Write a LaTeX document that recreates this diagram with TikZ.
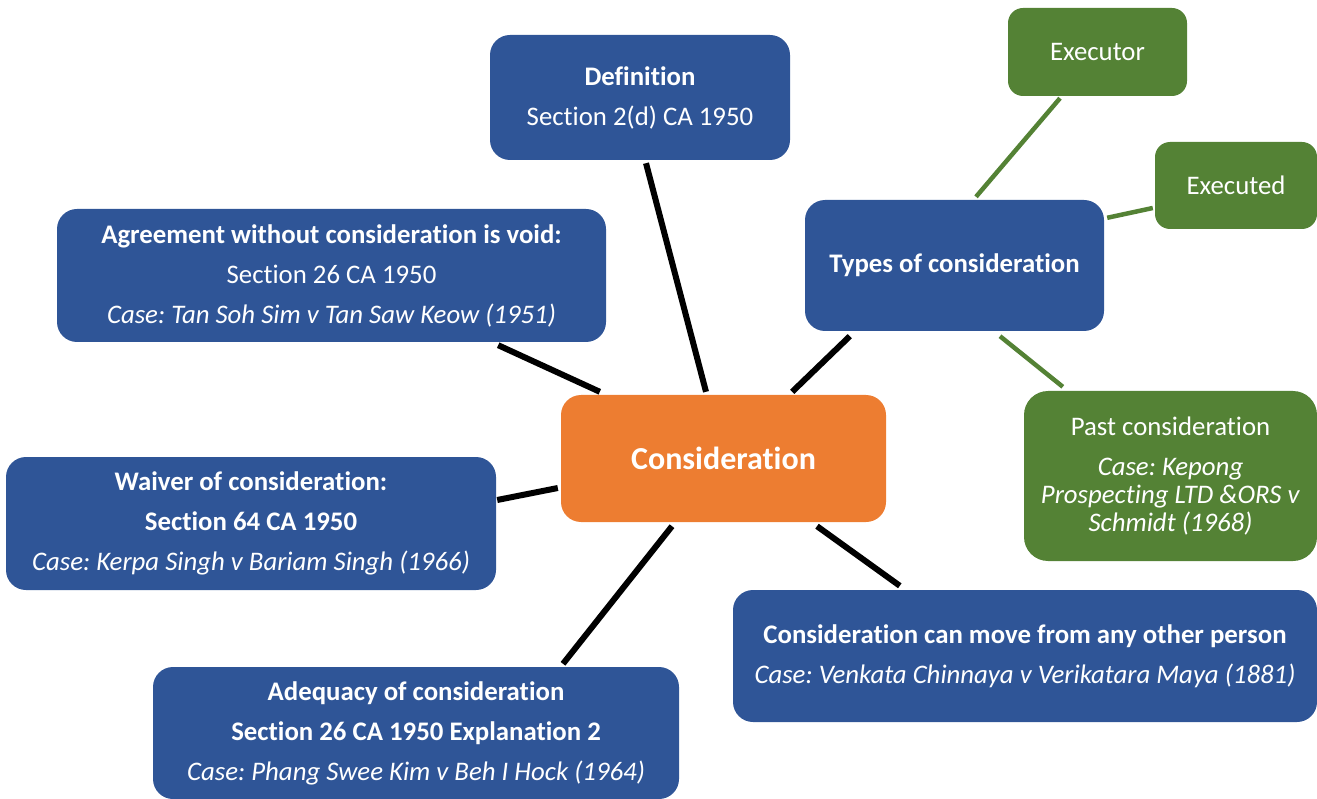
\documentclass[tikz,border=0pt]{standalone}
\usepackage{fontspec}
\setmainfont{Carlito}[Ligatures=CommonOff]
\usetikzlibrary{calc}
\definecolor{boxblue}{HTML}{2F5597}
\definecolor{boxgreen}{HTML}{548235}
\definecolor{boxorange}{HTML}{ED7D31}
\frenchspacing
\tikzset{
  card/.style={rounded corners=20pt, inner sep=0pt, align=center, text=white,
    font=\fontsize{26.8}{40}\selectfont},
  bluecard/.style={card, fill=boxblue},
  greencard/.style={card, fill=boxgreen},
  orangecard/.style={card, fill=boxorange, font=\fontsize{32}{40}\selectfont\bfseries},
  link/.style={line width=6pt, black},
  sublink/.style={line width=4.5pt, boxgreen},
}
\begin{document}
\begin{tikzpicture}[x=1pt, y=-1pt]
  \useasboundingbox (0,0) rectangle (1317,799);

  % central topic
  \node[orangecard, minimum width=325pt, minimum height=127pt] (cons) at (723.5,458.5) {Consideration};

  % surrounding topics
  \node[bluecard, minimum width=300pt, minimum height=125pt] (def) at (640,97.5)
    {\textbf{Definition}\\Section 2(d) CA 1950};
  \node[bluecard, minimum width=299pt, minimum height=131pt] (types) at (954.5,265.5)
    {\textbf{Types of consideration}};
  \node[bluecard, minimum width=549pt, minimum height=133pt] (agree) at (331.5,275.5)
    {\textbf{Agreement without consideration is void:}\\Section 26 CA 1950\\\textit{Case: Tan Soh Sim v Tan Saw Keow (1951)}};
  \node[bluecard, minimum width=490pt, minimum height=133pt] (waiver) at (251,523.5)
    {\textbf{Waiver of consideration:}\\\textbf{Section 64 CA 1950}\\\textit{Case: Kerpa Singh v Bariam Singh (1966)}};
  \node[bluecard, minimum width=526pt, minimum height=132pt] (adeq) at (416,733)
    {\textbf{Adequacy of consideration}\\\textbf{Section 26 CA 1950 Explanation 2}\\\textit{Case: Phang Swee Kim v Beh I Hock (1964)}};
  \node[bluecard, minimum width=584pt, minimum height=132pt] (move) at (1025,656)
    {\textbf{Consideration can move from any other person}\\\textit{Case: Venkata Chinnaya v Verikatara Maya (1881)}};

  % kinds of consideration
  \node[greencard, rounded corners=15pt, minimum width=179pt, minimum height=88pt] (executor) at (1097.5,52) {Executor};
  \node[greencard, rounded corners=15pt, minimum width=162pt, minimum height=87pt] (executed) at (1236,185.5) {Executed};
  \node[greencard, rounded corners=24pt, minimum width=293pt, minimum height=170pt,
        font=\fontsize{26.8}{28}\selectfont] (past) at (1170.5,476)
    {Past consideration\\[12pt]\textit{Case: Kepong}\\\textit{Prospecting LTD \&ORS v}\\\textit{Schmidt (1968)}};

  % spokes to the central topic
  \draw[link] ($(def.south)+(6,3)$) -- ($(cons.north)+(-17.5,-3)$);
  \draw[link] ($(agree.south east)+(-108,3)$) -- ($(cons.north west)+(39,-3)$);
  \draw[link] ($(types.south west)+(45,5)$) -- ($(cons.north east)+(-94,-3)$);
  \draw[link] ($(waiver.east)+(1,-23.5)$) -- ($(cons.west)+(-3,29.5)$);
  \draw[link] ($(adeq.north)+(147,-3)$) -- ($(cons.south)+(-51.5,4)$);
  \draw[link] ($(move.north west)+(167,-4)$) -- ($(cons.south)+(93.5,4)$);

  % branches of the types node
  \draw[sublink] ($(executor.south)+(-37.5,2)$) -- ($(types.north)+(21.5,-3)$);
  \draw[sublink] ($(executed.west)+(-2,22.5)$) -- ($(types.north east)+(3,18)$);
  \draw[sublink] ($(past.north west)+(39,-4)$) -- ($(types.south)+(45.5,5)$);
\end{tikzpicture}
\end{document}
